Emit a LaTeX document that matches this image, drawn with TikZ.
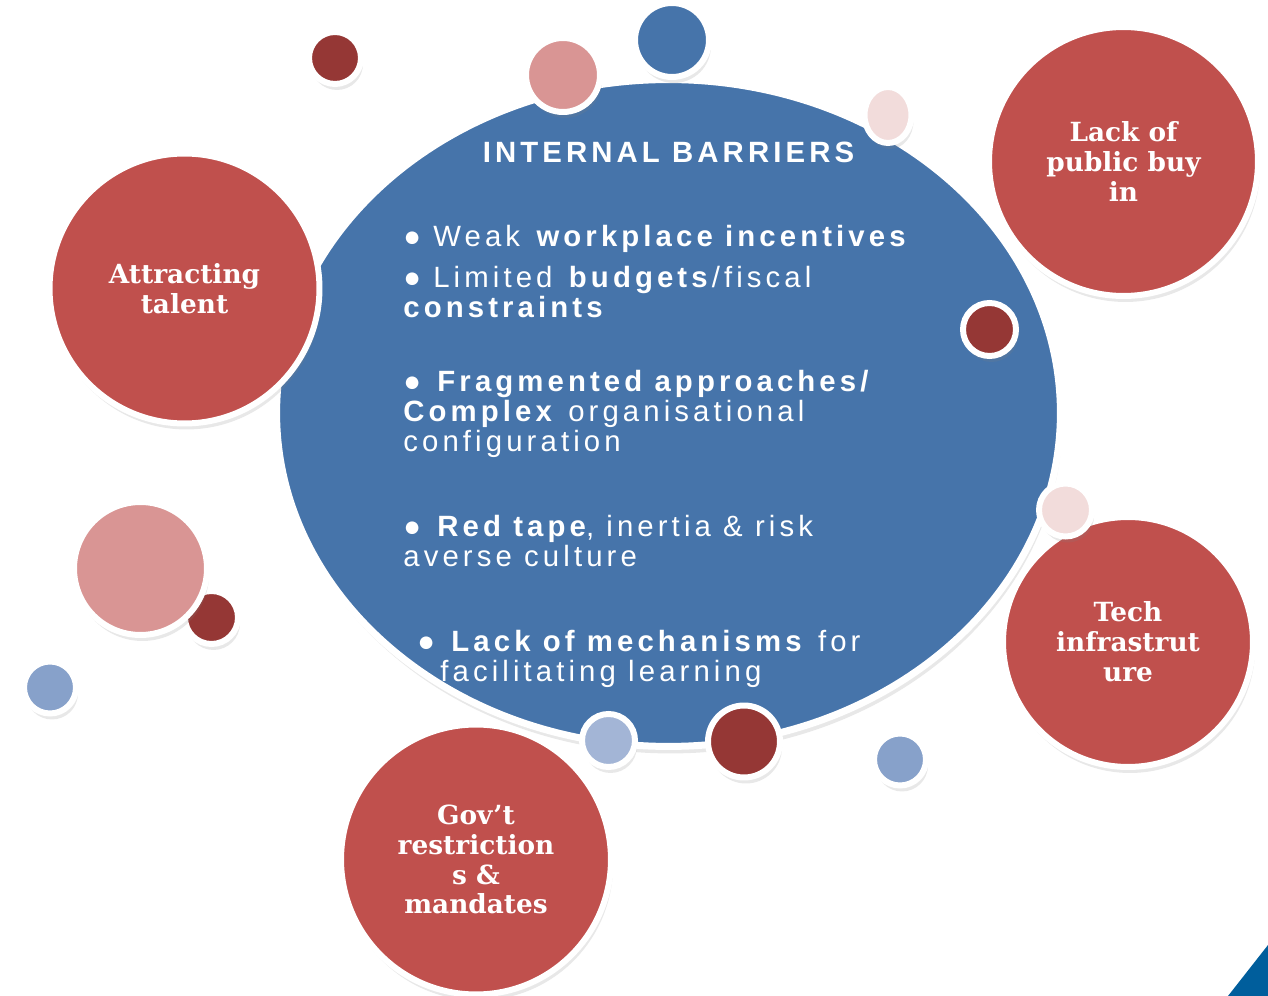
\documentclass[tikz,border=0pt]{standalone}
\usepackage{fontspec}
\setmainfont{Liberation Sans}
\newfontfamily\barfont[LetterSpace=14]{Liberation Sans}
\newfontfamily\labfont{DejaVu Serif}
\usetikzlibrary{shapes.geometric,shadows}

\definecolor{MainBlue}{RGB}{70,116,170}
\definecolor{CircleRed}{RGB}{192,80,77}
\definecolor{DarkRed}{RGB}{149,55,53}
\definecolor{Pink}{RGB}{217,149,148}
\definecolor{LightPink}{RGB}{242,220,219}
\definecolor{SoftBlue}{RGB}{135,161,202}
\definecolor{PaleBlue}{RGB}{163,181,214}
\definecolor{CornerBlue}{RGB}{0,94,156}
\tikzstyle{bubble} = [circle, draw=white, line width=0.12cm, inner sep=0pt, drop shadow={opacity=0.18, shadow xshift=0.04cm, shadow yshift=-0.12cm}]
\tikzstyle{bigbubble} = [bubble, fill=CircleRed, minimum size=5.4cm, text=white, align=center, font=\labfont\bfseries\fontsize{15}{17}\selectfont]
\tikzstyle{bartext} = [anchor=base west, align=left, text=white, inner sep=0pt, font=\barfont\fontsize{16.7}{17.1}\selectfont]

\begin{document}
\begin{tikzpicture}[x=0.02cm, y=-0.02cm]
\useasboundingbox (0,0) rectangle (1268,996);

% Ellipse principale
\node (barriers) [ellipse, draw=white, line width=0.14cm, fill=MainBlue, minimum width=15.68cm, minimum height=13.34cm, inner sep=0pt, drop shadow={opacity=0.18, shadow xshift=0.04cm, shadow yshift=-0.14cm}] at (668.5,413) {};

% Grands cercles
\node (talent) [bigbubble] at (184.5,288.5) {Attracting\\talent};
\node (buyin) [bigbubble, minimum size=5.38cm] at (1123.5,161.5) {Lack of\\public buy\\in};
\node (tech) [bigbubble, minimum size=5cm] at (1128,642) {Tech\\infrastrut\\ure};
\node (govt) [bigbubble] at (476,859.5) {Gov’t\\restriction\\s \&\\mandates};

% Petites bulles
\node (d1) [bubble, fill=DarkRed, minimum size=1.04cm] at (335,58) {};
\node (p1) [bubble, fill=Pink, minimum size=1.48cm] at (563,75) {};
\node (b1) [bubble, fill=MainBlue, minimum size=1.48cm] at (672,40) {};
\node (lp1) [bubble, ellipse, fill=LightPink, minimum width=0.94cm, minimum height=1.12cm] at (888,115) {};
\node (d2) [bubble, fill=DarkRed, minimum size=1.06cm] at (989.5,329.5) {};
\node (lp2) [bubble, fill=LightPink, minimum size=1.06cm] at (1065.5,510) {};
\node (d3) [bubble, fill=DarkRed, minimum size=1.06cm] at (211.5,617.5) {};
\node (p2) [bubble, fill=Pink, minimum size=2.66cm] at (140.5,568.5) {};
\node (lb1) [bubble, fill=SoftBlue, minimum size=1.04cm] at (50,687.5) {};
\node (lb2) [bubble, fill=PaleBlue, minimum size=1.06cm] at (608.5,740.5) {};
\node (d4) [bubble, fill=DarkRed, minimum size=1.44cm] at (744,741.5) {};
\node (lb3) [bubble, fill=SoftBlue, minimum size=1.04cm] at (900,759.5) {};

% Texte (ancre sur la derniere ligne)
\node (title) [anchor=base, text=white, inner sep=0pt, font=\barfont\bfseries\fontsize{16.7}{17.1}\selectfont] at (668.5,163) {INTERNAL BARRIERS};
\node (tx1) [bartext] at (403,247) {● Weak \textbf{workplace incentives}};
\node (tx2) [bartext] at (403,318) {● Limited \textbf{budgets}/fiscal\\\textbf{constraints}};
\node (tx3) [bartext] at (403,452) {● \textbf{Fragmented approaches/}\\\textbf{Complex} organisational\\configuration};
\node (tx4) [bartext] at (403,567) {● \textbf{Red tape}, inertia \& risk\\averse culture};
\node (tx5) [bartext] at (417,682) {● \textbf{Lack of mechanisms} for\\\hspace{0.46cm}facilitating learning};

% Coin
\fill[CornerBlue] (1228,996) -- (1268,945) -- (1268,996) -- cycle;

\end{tikzpicture}
\end{document}
